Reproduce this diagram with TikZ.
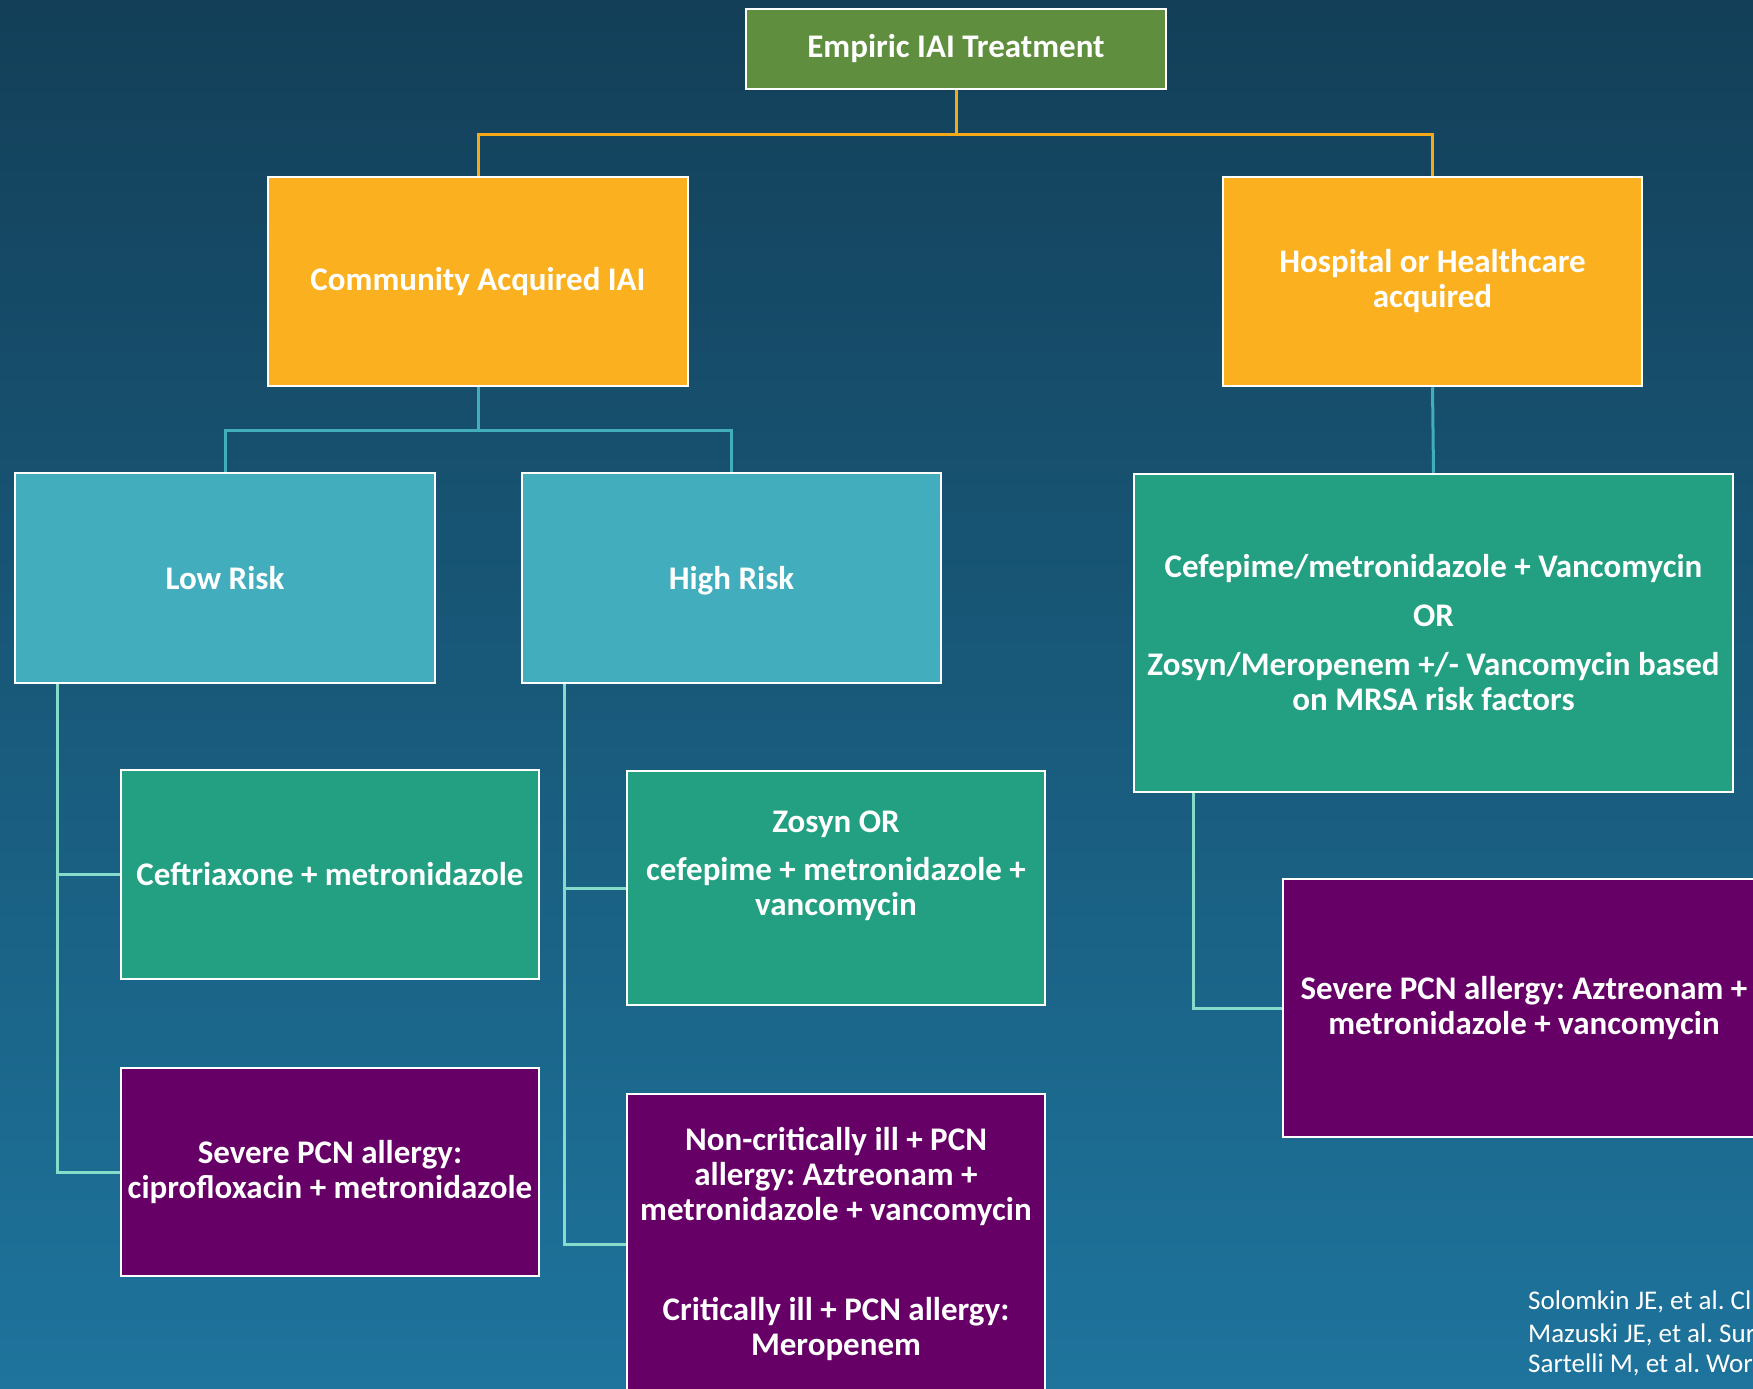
\documentclass[tikz,border=0pt]{standalone}
\usepackage{fontspec}
\setmainfont{Carlito}
\frenchspacing
\begin{document}
\begin{tikzpicture}[x=1pt,y=-1pt,
  box/.style={draw=white, line width=2.5pt, inner sep=0pt, align=center, text=white,
    font=\bfseries\fontsize{33}{35}\selectfont},
  orangeline/.style={draw=lineorange, line width=3pt},
  tealline/.style={draw=lineteal, line width=3pt},
  mintline/.style={draw=linemint, line width=3pt},
  cite/.style={anchor=base west, inner sep=0pt, text=white, font=\fontsize{27}{32}\selectfont}]
\definecolor{bgTop}{HTML}{133F58}
\definecolor{bgMid}{HTML}{154662}
\definecolor{bgBot}{HTML}{1E749D}
\definecolor{topgreen}{HTML}{5F8F3E}
\definecolor{boxorange}{HTML}{FBB11F}
\definecolor{boxteal}{HTML}{42AEBD}
\definecolor{boxgreen}{HTML}{22A081}
\definecolor{boxpurple}{HTML}{660066}
\definecolor{lineorange}{HTML}{F5A818}
\definecolor{lineteal}{HTML}{41ADBD}
\definecolor{linemint}{HTML}{86DCCB}

\useasboundingbox (0,0) rectangle (1753,1389);
\clip (0,0) rectangle (1753,1389);
\shade[top color=bgTop, middle color=bgMid, bottom color=bgBot] (0,0) rectangle (1753,1389);

% nodes
\node[box, fill=topgreen, minimum width=420pt, minimum height=80pt] (top) at (956,49) {Empiric IAI Treatment};
\node[box, fill=boxorange, minimum width=420pt, minimum height=209pt] (comm) at (478,281.5) {Community Acquired IAI};
\node[box, fill=boxorange, minimum width=419pt, minimum height=209pt] (hosp) at (1432.5,281.5) {Hospital or Healthcare\\acquired};
\node[box, fill=boxteal, minimum width=420pt, minimum height=210pt] (low) at (225,578) {Low Risk};
\node[box, fill=boxteal, minimum width=419pt, minimum height=210pt] (high) at (731.5,578) {\raisebox{0pt}[\height][0pt]{High Risk}};
\node[box, fill=boxgreen, minimum width=599pt, minimum height=318pt] (hgreen) at (1433.5,633)
  {Cefepime/metronidazole + Vancomycin\\[14pt]OR\\[14pt]Zosyn/Meropenem +/- Vancomycin based\\on MRSA risk factors};
\node[box, fill=boxgreen, minimum width=418pt, minimum height=209pt] (ceft) at (330,874.5) {Ceftriaxone + metronidazole};
\node[box, fill=boxpurple, minimum width=418pt, minimum height=208pt] (sevL) at (330,1172) {Severe PCN allergy:\\ciprofloxacin + metronidazole};
\node[box, fill=boxgreen, minimum width=418pt, minimum height=234pt] (zosyn) at (836,888)
  {Zosyn OR\\[13pt]cefepime + metronidazole +\\vancomycin\\[15pt]\mbox{}};
\node[box, fill=boxpurple, minimum width=418pt, minimum height=300pt] (noncrit) at (836,1244)
  {Non-critically ill + PCN\\allergy: Aztreonam +\\metronidazole + vancomycin\\[65pt]Critically ill + PCN allergy:\\Meropenem};
\node[box, fill=boxpurple, minimum width=482pt, minimum height=258pt] (sevR) at (1524,1008)
  {Severe PCN allergy: Aztreonam +\\metronidazole + vancomycin};

% connectors
\draw[orangeline] (top.south) -- ++(0,44) coordinate (j1) -| (comm.north);
\draw[orangeline] (j1) -| (hosp.north);
\draw[tealline] (comm.south) -- ++(0,43) coordinate (j2) -| (low.north);
\draw[tealline] (j2) -| (high.north);
\draw[tealline] (hosp.south) -- (hgreen.north);
\coordinate (ls) at (57,684);
\draw[mintline] (ls) |- (ceft.west);
\draw[mintline] (ls) |- (sevL.west);
\coordinate (ms) at (564,684);
\draw[mintline] (ms) |- (zosyn.west);
\draw[mintline] (ms) |- (noncrit.west);
\coordinate (rs) at (1193,793);
\draw[mintline] (rs) |- (sevR.west);

% citations
\node[cite] (c1) at (1528,1309) {Solomkin JE, et al. Cl};
\node[cite] (c2) at (1528,1342) {Mazuski JE, et al. Sur};
\node[cite] (c3) at (1528,1372) {Sartelli M, et al. Wor};
\end{tikzpicture}
\end{document}
